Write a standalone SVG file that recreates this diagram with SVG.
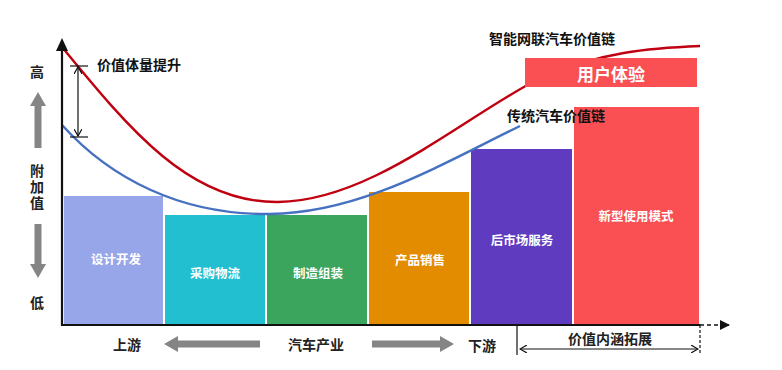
<svg xmlns="http://www.w3.org/2000/svg" width="782" height="370" viewBox="0 0 782 370">
<style>
text{font-family:"Noto Sans CJK SC","Noto Sans",sans-serif;font-weight:bold;}
.lbl{fill:#fff;font-size:12.5px;text-anchor:middle;dominant-baseline:central;}
.blk{fill:#111;font-size:14px;}
.side{fill:#222;font-size:14px;text-anchor:middle;dominant-baseline:central;}
.vert{fill:#222;font-size:14px;writing-mode:vertical-rl;text-orientation:upright;letter-spacing:2px;}
.ax{stroke:#111;stroke-width:2.2;fill:none;}
.thin{stroke:#111;stroke-width:1.2;fill:none;}
.grey{stroke:#858585;stroke-width:7;fill:none;}
</style>
<defs>
<marker id="tri" markerWidth="10" markerHeight="10" refX="9" refY="5" orient="auto" markerUnits="userSpaceOnUse"><path d="M0,0 L10,5 L0,10 z" fill="#111"/></marker>
<marker id="open" markerWidth="8" markerHeight="8" refX="7" refY="4" orient="auto-start-reverse" markerUnits="userSpaceOnUse"><path d="M0,0 L7,4 L0,8" fill="none" stroke="#111" stroke-width="1.2"/></marker>
<marker id="gh" markerWidth="14" markerHeight="16" refX="2" refY="8" orient="auto" markerUnits="userSpaceOnUse"><path d="M0,0 L14,8 L0,16 z" fill="#858585"/></marker>
</defs>

<g id="bars">
<g id="n-sheji"><rect x="64" y="196" width="99" height="129" fill="#96a6e8"/><text class="lbl" x="116" y="258">设计开发</text></g>
<g id="n-caigou"><rect x="165" y="215" width="100" height="110" fill="#21bfd0"/><text class="lbl" x="215" y="272">采购物流</text></g>
<g id="n-zhizao"><rect x="267" y="215" width="100" height="110" fill="#3ba45d"/><text class="lbl" x="318" y="272">制造组装</text></g>
<g id="n-chanpin"><rect x="369" y="192" width="100" height="133" fill="#e38c00"/><text class="lbl" x="420" y="259">产品销售</text></g>
<g id="n-houshichang"><rect x="471" y="149" width="101" height="176" fill="#5f3bc0"/><text class="lbl" x="522" y="239">后市场服务</text></g>
<g id="n-xinxing"><rect x="574" y="107" width="125" height="218" fill="#fa5054"/><text class="lbl" x="636" y="215">新型使用模式</text></g>
</g>

<g id="connectors">
<path id="red-curve" d="M62,47 C130,130 190,203 278,202 C370,201 460,120 540,78 C600,52 650,48 700,46" stroke="#c00010" stroke-width="2.4" fill="none"/>
<path id="blue-curve" d="M62,125 C110,178 180,215 270,214 C360,213 440,165 520,126" stroke="#4670c0" stroke-width="2.4" fill="none"/>
<line class="ax" x1="62" y1="326" x2="62" y2="44"/>
<path d="M56,51 L62,38 L68,51 z" fill="#111"/>
<line class="ax" x1="61" y1="325" x2="700" y2="325"/>
<line x1="700" y1="325" x2="729" y2="325" stroke="#111" stroke-width="1.6" stroke-dasharray="4,3" marker-end="url(#tri)"/>
<line class="thin" x1="78" y1="67" x2="78" y2="136" marker-start="url(#open)" marker-end="url(#open)"/>
<line class="thin" x1="70" y1="66" x2="88" y2="66"/>
<line class="thin" x1="70" y1="137" x2="88" y2="137"/>
<line class="grey" x1="38" y1="148" x2="38" y2="104" marker-end="url(#gh)"/>
<line class="grey" x1="38" y1="224" x2="38" y2="266" marker-end="url(#gh)"/>
<line class="grey" x1="260" y1="344" x2="176" y2="344" marker-end="url(#gh)"/>
<line class="grey" x1="372" y1="344" x2="442" y2="344" marker-end="url(#gh)"/>
<line class="thin" x1="517" y1="325" x2="517" y2="355"/>
<line x1="700" y1="325" x2="700" y2="355" stroke="#111" stroke-width="1.2" stroke-dasharray="3,2"/>
<line class="thin" x1="520" y1="349" x2="698" y2="349" marker-start="url(#open)" marker-end="url(#open)"/>
</g>

<g id="n-yonghu"><rect x="525" y="58" width="172" height="29" fill="#fa5054"/><text x="611" y="73" fill="#fff" font-size="17" text-anchor="middle" dominant-baseline="central">用户体验</text></g>

<g id="labels">
<text class="blk" x="97" y="70">价值体量提升</text>
<text class="blk" x="489" y="44">智能网联汽车价值链</text>
<text class="blk" x="507" y="121">传统汽车价值链</text>
<text class="side" x="37" y="71">高</text>
<text class="vert" x="37" y="164">附加值</text>
<text class="side" x="37" y="302">低</text>
<text class="side" x="127" y="344">上游</text>
<text class="side" x="316" y="344">汽车产业</text>
<text class="side" x="482" y="345">下游</text>
<text class="side" x="610" y="338">价值内涵拓展</text>
</g>
</svg>
